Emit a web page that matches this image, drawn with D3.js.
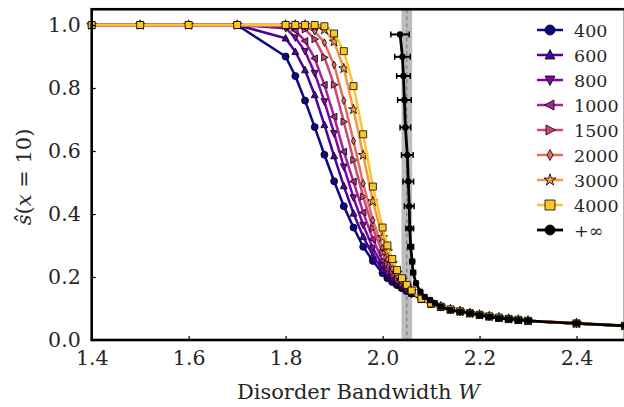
<!DOCTYPE html>
<html>
<head>
<meta charset="utf-8">
<script src="https://cdn.jsdelivr.net/npm/d3@7"></script>
<style>
  html, body { margin: 0; padding: 0; background: #fff; }
  svg text { font-family: "DejaVu Serif", serif; fill: #262626; }
</style>
</head>
<body>
<div id="chart"></div>
<script>
// disorder bandwidth grid shared by the finite size curves
var W = [1.4, 1.5, 1.6, 1.7, 1.8, 1.82, 1.84, 1.86, 1.88, 1.90, 1.92, 1.94, 1.96, 1.98, 2.00,
         2.01, 2.02, 2.03, 2.04, 2.05, 2.06, 2.08, 2.10, 2.12, 2.14, 2.16, 2.18, 2.20,
         2.22, 2.24, 2.26, 2.28, 2.30, 2.40, 2.50];

// s(x=10) per system size
var s400  = [1, 1, 1, 1, 0.900, 0.838, 0.760, 0.676, 0.588, 0.504, 0.425, 0.357, 0.296, 0.251, 0.212,
             0.196, 0.184, 0.174, 0.164, 0.155, 0.147, 0.129, 0.114, 0.104, 0.096, 0.090, 0.084, 0.079,
             0.074, 0.070, 0.066, 0.063, 0.060, 0.052, 0.045];
var s600  = [1, 1, 1, 1, 0.958, 0.915, 0.857, 0.778, 0.683, 0.584, 0.489, 0.402, 0.328, 0.268, 0.223,
             0.205, 0.190, 0.178, 0.167, 0.157, 0.148, 0.129, 0.114, 0.104, 0.096, 0.090, 0.084, 0.079,
             0.074, 0.070, 0.066, 0.063, 0.060, 0.052, 0.045];
var s800  = [1, 1, 1, 1, 0.990, 0.960, 0.917, 0.847, 0.757, 0.656, 0.550, 0.452, 0.365, 0.292, 0.236,
             0.213, 0.196, 0.182, 0.170, 0.159, 0.149, 0.130, 0.115, 0.105, 0.097, 0.090, 0.085, 0.080,
             0.075, 0.070, 0.067, 0.064, 0.061, 0.052, 0.045];
var s1000 = [1, 1, 1, 1, 0.996, 0.982, 0.949, 0.894, 0.810, 0.709, 0.598, 0.503, 0.405, 0.320, 0.252,
             0.225, 0.204, 0.187, 0.173, 0.161, 0.150, 0.130, 0.115, 0.105, 0.097, 0.091, 0.085, 0.080,
             0.075, 0.071, 0.067, 0.064, 0.061, 0.052, 0.045];
var s1500 = [1, 1, 1, 1, 1.000, 0.996, 0.986, 0.955, 0.897, 0.810, 0.693, 0.571, 0.455, 0.355, 0.277,
             0.244, 0.217, 0.196, 0.178, 0.164, 0.152, 0.130, 0.115, 0.105, 0.097, 0.091, 0.085, 0.080,
             0.075, 0.071, 0.067, 0.064, 0.061, 0.052, 0.045];
var s2000 = [1, 1, 1, 1, 1.000, 1.000, 0.996, 0.980, 0.944, 0.873, 0.760, 0.632, 0.497, 0.380, 0.292,
             0.256, 0.226, 0.203, 0.184, 0.168, 0.154, 0.131, 0.115, 0.105, 0.097, 0.091, 0.085, 0.080,
             0.075, 0.071, 0.067, 0.064, 0.061, 0.053, 0.045];
var s3000 = [1, 1, 1, 1, 1.000, 1.000, 1.000, 0.996, 0.985, 0.947, 0.862, 0.732, 0.587, 0.440, 0.326,
             0.281, 0.243, 0.213, 0.190, 0.171, 0.155, 0.131, 0.116, 0.106, 0.097, 0.091, 0.085, 0.080,
             0.075, 0.071, 0.067, 0.064, 0.061, 0.053, 0.045];
var s4000 = [1, 1, 1, 1, 1.000, 1.000, 1.000, 1.000, 0.996, 0.973, 0.917, 0.806, 0.653, 0.487, 0.357,
             0.300, 0.257, 0.222, 0.196, 0.175, 0.157, 0.131, 0.116, 0.106, 0.097, 0.091, 0.085, 0.080,
             0.075, 0.071, 0.067, 0.064, 0.061, 0.053, 0.045];

var sizeLabels = ["400", "600", "800", "1000", "1500", "2000", "3000", "4000"];
var sizeSeries = [s400, s600, s800, s1000, s1500, s2000, s3000, s4000];
var sizeMarkers = ["circle", "triUp", "triDown", "triLeft", "triRight", "diamond", "star", "square"];

// extrapolated N -> infinity curve with horizontal error bars
var wInf   = [2.036, 2.041, 2.043, 2.045, 2.047, 2.051, 2.053, 2.055, 2.056, 2.058, 2.061, 2.063, 2.069,
              2.078, 2.087, 2.098, 2.108, 2.120, 2.140, 2.160, 2.180, 2.200, 2.220, 2.240, 2.260, 2.280,
              2.300, 2.400, 2.500];
var sInf   = [0.970, 0.899, 0.838, 0.762, 0.675, 0.587, 0.503, 0.425, 0.354, 0.296, 0.249, 0.214, 0.180,
              0.153, 0.137, 0.127, 0.117, 0.106, 0.095, 0.090, 0.085, 0.079, 0.074, 0.069, 0.066, 0.063,
              0.061, 0.053, 0.045];
var errInf = [0.019, 0.016, 0.014, 0.014, 0.011, 0.012, 0.011, 0.010, 0.008, 0.006, 0.005, 0.005, 0.004,
              0.004, 0.004, 0.004, 0.004, 0.004, 0.004, 0.004, 0.005, 0.005, 0.006, 0.006, 0.006, 0.006,
              0.006, 0.006, 0.006];

// critical point estimate (band) and its centre
var wCritical = 2.050;
var wCriticalBand = [2.039, 2.061];

var xTicks = [1.4, 1.6, 1.8, 2.0, 2.2, 2.4];
var yTicks = [0.0, 0.2, 0.4, 0.6, 0.8, 1.0];

/** Layout **/
var width = 624, height = 407;
var margin = {left: 91.7, top: 9.25, right: 625, bottom: 340};
var FONT = "'DejaVu Serif', serif";

var svg = d3.select("#chart").append("svg")
  .attr("width", width)
  .attr("height", height);

var x = d3.scaleLinear().domain([1.4, 2.5]).range([margin.left, margin.right]);
var y = d3.scaleLinear().domain([0, 1.05]).range([margin.bottom, margin.top]);

function colorOf(i) {
  return d3.interpolatePlasma(i / 8);
}

// marker path, centered at 0,0 ; s = nominal size in px
function markerPath(type, s) {
  var r = s / 2;
  switch (type) {
    case "circle":
      return d3.symbol(d3.symbolCircle, Math.PI * r * r)();
    case "square":
      return "M" + (-r) + "," + (-r) + "H" + r + "V" + r + "H" + (-r) + "Z";
    case "triUp":
      return "M0," + (-r * 1.1) + "L" + (r) + "," + (r * 0.8) + "L" + (-r) + "," + (r * 0.8) + "Z";
    case "triDown":
      return "M0," + (r * 1.1) + "L" + (r) + "," + (-r * 0.8) + "L" + (-r) + "," + (-r * 0.8) + "Z";
    case "triLeft":
      return "M" + (-r * 1.1) + ",0L" + (r * 0.8) + "," + (-r) + "L" + (r * 0.8) + "," + r + "Z";
    case "triRight":
      return "M" + (r * 1.1) + ",0L" + (-r * 0.8) + "," + (-r) + "L" + (-r * 0.8) + "," + r + "Z";
    case "diamond":
      return "M0," + (-r * 1.1) + "L" + (r * 0.6) + ",0L0," + (r * 1.1) + "L" + (-r * 0.6) + ",0Z";
    case "star":
      return d3.symbol(d3.symbolStar, s * s * 0.55)();
  }
}

drawBand();
drawCurves();
drawInfinity();
drawAxes();
drawLegend();

function drawBand() {
  svg.append("rect")
    .attr("x", x(wCriticalBand[0]))
    .attr("y", margin.top)
    .attr("width", x(wCriticalBand[1]) - x(wCriticalBand[0]))
    .attr("height", margin.bottom - margin.top)
    .attr("fill", "#bdbdbd");
  svg.append("line")
    .attr("x1", x(wCritical)).attr("x2", x(wCritical))
    .attr("y1", margin.top).attr("y2", margin.bottom)
    .attr("stroke", "#707070")
    .attr("stroke-width", 1)
    .attr("stroke-dasharray", "4,3");
}

function drawCurves() {
  var line = d3.line()
    .x(function (d) { return x(d[0]); })
    .y(function (d) { return y(d[1]); });
  sizeSeries.forEach(function (vals, i) {
    var pts = W.map(function (w, k) { return [w, vals[k]]; });
    var g = svg.append("g").attr("class", "series-" + sizeLabels[i]);
    g.append("path")
      .attr("d", line(pts))
      .attr("fill", "none")
      .attr("stroke", colorOf(i))
      .attr("stroke-width", 2.5)
      .attr("stroke-linejoin", "round");
    g.selectAll("path.mk").data(pts).enter().append("path")
      .attr("class", "mk")
      .attr("d", markerPath(sizeMarkers[i], sizeMarkers[i] === "star" ? 7.5 : 7))
      .attr("transform", function (d) { return "translate(" + x(d[0]) + "," + y(d[1]) + ")"; })
      .attr("fill", colorOf(i))
      .attr("stroke", "#000")
      .attr("stroke-width", 0.8);
  });
}

function drawInfinity() {
  var pts = wInf.map(function (w, k) { return [w, sInf[k], errInf[k]]; });
  var g = svg.append("g").attr("class", "series-inf");
  var line = d3.line()
    .x(function (d) { return x(d[0]); })
    .y(function (d) { return y(d[1]); });
  g.append("path")
    .attr("d", line(pts))
    .attr("fill", "none")
    .attr("stroke", "#000")
    .attr("stroke-width", 2.8);
  // horizontal error bars + caps
  var eb = g.selectAll("g.eb").data(pts).enter().append("g").attr("class", "eb");
  eb.append("line")
    .attr("x1", function (d) { return x(d[0] - d[2]); })
    .attr("x2", function (d) { return x(d[0] + d[2]); })
    .attr("y1", function (d) { return y(d[1]); })
    .attr("y2", function (d) { return y(d[1]); })
    .attr("stroke", "#000").attr("stroke-width", 2);
  [-1, 1].forEach(function (sgn) {
    eb.append("line")
      .attr("x1", function (d) { return x(d[0] + sgn * d[2]); })
      .attr("x2", function (d) { return x(d[0] + sgn * d[2]); })
      .attr("y1", function (d) { return y(d[1]) - 3; })
      .attr("y2", function (d) { return y(d[1]) + 3; })
      .attr("stroke", "#000").attr("stroke-width", 1.5);
  });
  g.selectAll("circle.mk").data(pts).enter().append("circle")
    .attr("class", "mk")
    .attr("cx", function (d) { return x(d[0]); })
    .attr("cy", function (d) { return y(d[1]); })
    .attr("r", 3.2)
    .attr("fill", "#000");
}

function drawAxes() {
  var xAxis = d3.axisBottom(x).tickValues(xTicks).tickSize(-4).tickPadding(10)
    .tickFormat(d3.format(".1f"));
  var yAxis = d3.axisLeft(y).tickValues(yTicks).tickSize(-4).tickPadding(11)
    .tickFormat(d3.format(".1f"));
  var gx = svg.append("g").attr("transform", "translate(0," + margin.bottom + ")").call(xAxis);
  var gy = svg.append("g").attr("transform", "translate(" + margin.left + ",0)").call(yAxis);
  [gx, gy].forEach(function (g) {
    g.attr("font-family", null).attr("font-size", null);
    g.select(".domain").remove();
    g.selectAll(".tick line").attr("stroke", "#000").attr("stroke-width", 1.2);
    g.selectAll(".tick text")
      .attr("fill", "#262626")
      .style("font-family", FONT)
      .style("font-size", "20.5px");
  });
  // spines
  svg.append("rect")
    .attr("x", margin.left).attr("y", margin.top)
    .attr("width", margin.right - margin.left)
    .attr("height", margin.bottom - margin.top)
    .attr("fill", "none").attr("stroke", "#000").attr("stroke-width", 2.6);

  // axis labels
  var xl = svg.append("text")
    .attr("x", (margin.left + margin.right) / 2)
    .attr("y", 399)
    .attr("text-anchor", "middle")
    .style("font-family", FONT)
    .style("font-size", "21px");
  xl.append("tspan").text("Disorder Bandwidth ");
  xl.append("tspan").style("font-style", "italic").text("W");

  var yl = svg.append("text")
    .attr("transform", "translate(31," + 177 + ") rotate(-90)")
    .attr("text-anchor", "middle")
    .style("font-family", FONT)
    .style("font-size", "21px");
  yl.append("tspan").style("font-style", "italic").text("ŝ");
  yl.append("tspan").text("(");
  yl.append("tspan").style("font-style", "italic").text("x");
  yl.append("tspan").text(" = 10)");
}

function drawLegend() {
  var items = sizeLabels.map(function (l, i) {
    return {label: l, color: colorOf(i), marker: sizeMarkers[i]};
  });
  items.push({label: "+∞", color: "#000", marker: "circle"});
  var lg = svg.append("g").attr("class", "legend");
  items.forEach(function (d, i) {
    var yy = 30 + i * 25;
    var row = lg.append("g").attr("transform", "translate(0," + yy + ")");
    row.append("line")
      .attr("x1", 537).attr("x2", 563)
      .attr("stroke", d.color)
      .attr("stroke-width", d.label === "+∞" ? 2.8 : 2.5);
    row.append("path")
      .attr("d", markerPath(d.marker, d.marker === "star" ? 9 : 10))
      .attr("transform", "translate(550,0)")
      .attr("fill", d.color)
      .attr("stroke", "#000")
      .attr("stroke-width", 0.8);
    row.append("text")
      .attr("x", 574).attr("y", 6.5)
      .style("font-family", FONT)
      .style("font-size", "17.5px")
      .text(d.label);
  });
}
</script>
</body>
</html>
